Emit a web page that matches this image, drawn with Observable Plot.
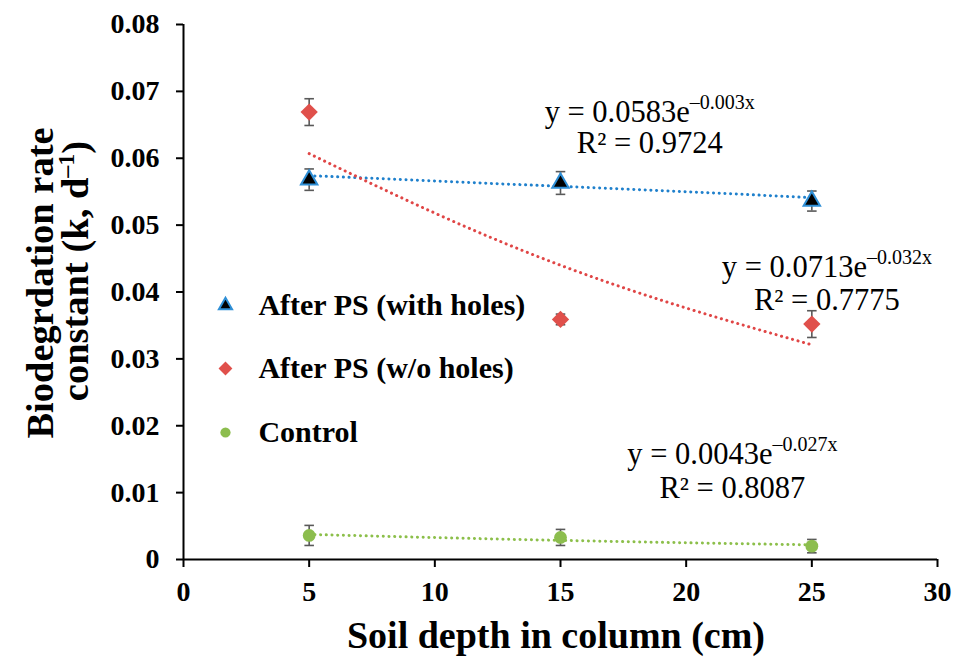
<!DOCTYPE html>
<html><head><meta charset="utf-8">
<script src="https://cdn.jsdelivr.net/npm/d3@7"></script>
<script src="https://cdn.jsdelivr.net/npm/@observablehq/plot@0.6"></script>
<style>body{margin:0;background:#fff} #chart{width:954px;height:658px}</style>
</head><body><div id="chart"></div>
<script>
// ---- data ----
const depths = [5, 15, 25];
const withHoles = [0.0568, 0.0563, 0.0536];
const withHolesErr = [0.0016, 0.0017, 0.0015];
const withoutHoles = [0.0669, 0.0359, 0.0352];
const withoutHolesErr = [0.0020, 0.0008, 0.0020];
const control = [0.0036, 0.0033, 0.0020];
const controlErr = [0.0015, 0.0012, 0.0010];

const trendDepths = [5, 10, 15, 20, 25];
const withHolesTrend = [0.0574, 0.0566, 0.0558, 0.0550, 0.0541];
const withoutHolesTrend = [0.0607, 0.0518, 0.0440, 0.0376, 0.0321];
const controlTrend = [0.00375, 0.00328, 0.00286, 0.00250, 0.00219];

const seriesNames = ["After PS (with holes)", "After PS (w/o holes)", "Control"];
const equations = ["y = 0.0583e|–0.003x", "y = 0.0713e|–0.032x", "y = 0.0043e|–0.027x"];
const rSquared = ["R² = 0.9724", "R² = 0.7775", "R² = 0.8087"];

const xTicks = [0, 5, 10, 15, 20, 25, 30];
const yTicks = [0, 0.01, 0.02, 0.03, 0.04, 0.05, 0.06, 0.07, 0.08];

// ---- build tables ----
const values = [withHoles, withoutHoles, control];
const errs = [withHolesErr, withoutHolesErr, controlErr];
const trends = [withHolesTrend, withoutHolesTrend, controlTrend];
const points = [];
values.forEach((vals, s) => vals.forEach((v, i) => points.push({series: seriesNames[s], x: depths[i], y: v, e: errs[s][i]})));
const trendRows = [];
trends.forEach((vals, s) => vals.forEach((v, i) => trendRows.push({series: seriesNames[s], x: trendDepths[i], y: v})));

const lineColor = {"After PS (with holes)": "#1f80cc", "After PS (w/o holes)": "#e04646", "Control": "#8cbf4a"};
const styles = [
  {symbol: "triangle", fill: "#000", stroke: "#2f8fd6", strokeWidth: 2, r: 6.1},
  {symbol: "diamond2", fill: "#e0504b", stroke: "none", strokeWidth: 0, r: 7.8},
  {symbol: "circle", fill: "#8cbd4e", stroke: "none", strokeWidth: 0, r: 6.4}
];

const legendRows = seriesNames.map((n, i) => ({name: n, i}));
const legendY = [0.0380, 0.02856, 0.01899];
const eqPos = [
  {x: 18.55, y1: 0.0669, y2: 0.0623},
  {x: 25.6, y1: 0.04375, y2: 0.03882},
  {x: 21.84, y1: 0.01579, y2: 0.01071}
];
const eqRows = equations.map((t, i) => ({t, r: rSquared[i], ...eqPos[i]}));

const marks = [
  Plot.ruleY([0], {stroke: "#000", strokeWidth: 2}),
  Plot.ruleX([0], {y1: 0, y2: 0.08, stroke: "#000", strokeWidth: 2}),
  Plot.axisX({ticks: xTicks, tickSize: 8, tickPadding: 14, fontSize: 28, fontWeight: "bold", label: null, strokeWidth: 2, stroke: "#000"}),
  Plot.axisY({ticks: yTicks, tickSize: 7, tickPadding: 17, fontSize: 28, fontWeight: "bold", label: null, strokeWidth: 2, stroke: "#000",
    tickFormat: d => d === 0 ? "0" : d.toFixed(2)}),
  Plot.line(trendRows, {x: "x", y: "y", z: "series", stroke: d => lineColor[d.series], strokeWidth: 3,
    strokeDasharray: "0.1 5.6", strokeLinecap: "round", curve: "natural"}),
  Plot.ruleX(points, {x: "x", y1: d => d.y - d.e, y2: d => d.y + d.e, stroke: "#595959", strokeWidth: 1.6}),
  Plot.link(points, {x1: d => d.x - 0.19, x2: d => d.x + 0.19, y1: d => d.y + d.e, y2: d => d.y + d.e, stroke: "#595959", strokeWidth: 1.6}),
  Plot.link(points, {x1: d => d.x - 0.19, x2: d => d.x + 0.19, y1: d => d.y - d.e, y2: d => d.y - d.e, stroke: "#595959", strokeWidth: 1.6}),
];
seriesNames.forEach((n, s) => {
  const st = styles[s];
  marks.push(Plot.dot(points.filter(d => d.series === n), {x: "x", y: "y", symbol: st.symbol, fill: st.fill, stroke: st.stroke, strokeWidth: st.strokeWidth, r: st.r}));
  marks.push(Plot.dot([legendRows[s]], {x: 1.67, y: legendY[s], symbol: st.symbol, fill: st.fill, stroke: st.stroke, strokeWidth: st.strokeWidth, r: st.r * 0.8}));
});
marks.push(
  Plot.text(legendRows, {x: 2.98, y: d => legendY[d.i], text: "name", textAnchor: "start", lineAnchor: "middle", fontSize: 30, fontWeight: "bold", fill: "#000"}),
  Plot.text(eqRows, {x: "x", y: "y1", text: "t", textAnchor: "middle", lineAnchor: "middle", fontSize: 30.5, fill: "#000"}),
  Plot.text(eqRows, {x: "x", y: "y2", text: "r", textAnchor: "middle", lineAnchor: "middle", fontSize: 30.5, fill: "#000"})
);

const chart = Plot.plot({
  width: 954, height: 658,
  marginLeft: 183, marginRight: 17, marginTop: 24, marginBottom: 99,
  x: {domain: [0, 30], axis: null},
  y: {domain: [0, 0.08], axis: null},
  style: {fontFamily: "'Liberation Serif', 'Times New Roman', serif", background: "#fff", color: "#000", overflow: "visible"},
  marks
});
document.getElementById("chart").appendChild(chart);

// superscripts in equations
const NS = "http://www.w3.org/2000/svg";
chart.querySelectorAll("text").forEach(t => {
  const s = t.textContent;
  if (s.includes("|")) {
    const [base, sup] = s.split("|");
    while (t.firstChild) t.removeChild(t.firstChild);
    const a = document.createElementNS(NS, "tspan"); a.textContent = base; t.appendChild(a);
    const b = document.createElementNS(NS, "tspan"); b.textContent = sup;
    b.setAttribute("font-size", "20"); b.setAttribute("dy", "-13"); t.appendChild(b);
  }
});

// axis titles
const svg = d3.select(chart);
svg.append("text").attr("x", 556).attr("y", 648).attr("text-anchor", "middle")
  .attr("font-size", 38).attr("font-weight", "bold").attr("fill", "#000").text("Soil depth in column (cm)");
svg.append("text").attr("transform", "translate(53,283) rotate(-90)").attr("text-anchor", "middle")
  .attr("font-size", 38.5).attr("font-weight", "bold").attr("fill", "#000").text("Biodegrdation rate");
const l2 = svg.append("text").attr("transform", "translate(88,271) rotate(-90)").attr("text-anchor", "middle")
  .attr("font-size", 38.5).attr("font-weight", "bold").attr("fill", "#000");
l2.append("tspan").text("constant (k, d");
l2.append("tspan").attr("font-size", 24).attr("dy", -14).text("–1");
l2.append("tspan").attr("dy", 14).text(")");
</script>
</body></html>
